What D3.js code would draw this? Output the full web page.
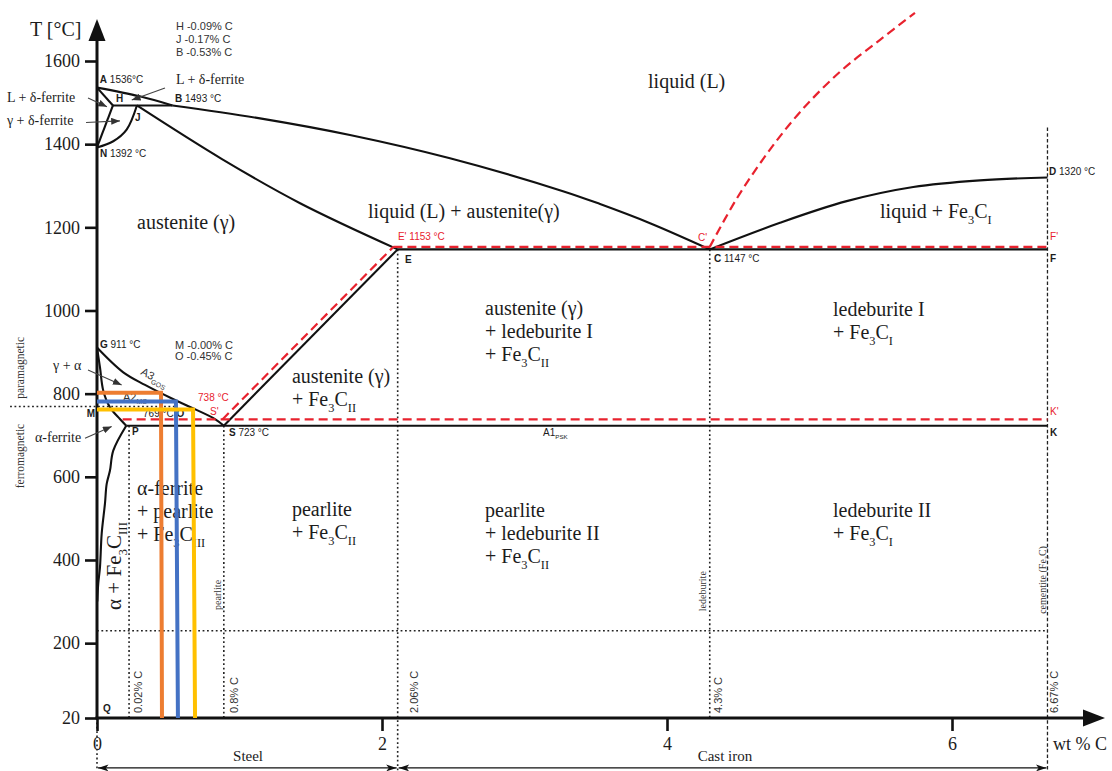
<!DOCTYPE html>
<html><head><meta charset="utf-8">
<script src="https://cdn.jsdelivr.net/npm/d3@7"></script>
<style>
body{margin:0;background:#fff}
svg{display:block;background:#fff}
.serif{font-family:"Liberation Serif","Times New Roman",serif;fill:#1c1c1c}
.sans{font-family:"Liberation Sans",Arial,sans-serif;fill:#1c1c1c}
</style></head><body>
<svg id="chart" width="1112" height="771"></svg>
<script>
// ---------------- DATA (wt % C, °C) ----------------
const xTicks=[0,2,4,6];
const yTicks=[20,200,400,600,800,1000,1200,1400,1600];

const liquidusAB=[[0,1536],[0.30,1515],[0.53,1493]];
const liquidusBC=[[0.53,1493],[1.144,1462],[1.775,1422],[2.477,1366],[3.27,1287],[3.53,1256],[3.881,1210],[4.3,1147]];
const liquidusCD=[[4.3,1147],[4.793,1211],[5.261,1263],[5.728,1297],[6.196,1313],[6.67,1320]];
const peritecticHB=[[0.112,1493],[0.53,1493]];
const solidusAH=[[0,1536],[0.112,1493]];
const deltaHN=[[0.112,1493],[0,1392]];
const gammaJN=[[0.28,1493],[0.208,1435],[0.114,1407],[0,1392]];
const solidusJE=[[0.28,1493],[0.877,1364],[1.425,1258],[2.11,1147]];
const eutecticEF=[[2.11,1147],[6.67,1147]];
const acmES=[[2.11,1147],[0.89,723]];
const a3GS=[[0,911],[0.182,852],[0.337,821],[0.533,787],[0.653,768],[0.828,739],[0.89,723]];
const alphaGP=[[0,911],[0.021,863],[0.044,807],[0.091,767],[0.161,739],[0.205,723]];
const solvusPQ=[[0.205,723],[0.114,663],[0.091,615],[0.068,583],[0.056,536],[0.033,464],[0.021,383],[0.009,344],[0.002,300]];
const eutectoidPK=[[0.205,723],[6.67,723]];

// stable (graphite) system, red dashed
const stableSE=[[0.88,738],[2.08,1153]];
const stableEF=[[2.08,1153],[6.67,1153]];
const stablePK=[[0.18,738],[6.67,738]];
const stableC=[[4.3,1153],[4.484,1266],[4.695,1374],[4.933,1477],[5.214,1574],[5.495,1651],[5.74,1716]];

// dotted guide lines
const guideX=[0.225,0.89,2.11,4.3,0];
const guideTop=[723,723,1147,1147,20];
const guideBottom=[20,20,-107,20,-107];
const cementiteX=6.67, cementiteTop=1440, cementiteBottom=-107;
const curieLine=[[0,230],[6.67,230]];
const magneticLine=[[-0.61,769],[0.55,769]];

// alloy composition lines (orange, blue, yellow)
const alloyT=[802,781,762];
const alloyTopX=[0.449,0.554,0.674];
const alloyBotX=[0.456,0.568,0.688];

// ranges under axis: [from, to, label, label x]
const ranges=[[0,2.11,"Steel",1.06],[2.11,6.67,"Cast iron",4.407]];
const rangeT=-100, rangeLabelT=-83;

// point labels: [text, x, T]
const pointLabels=[
 ["*A* 1536°C",0.02,1546],["*H*",0.133,1501],["*B* 1493 °C",0.547,1501],["*J*",0.267,1456],
 ["*N* 1392 °C",0.021,1369],
 ["*G* 911 °C",0.021,910],["*M*",-0.072,744],
 ["769 °C *O*",0.323,744],["*P*",0.246,701],["*S* 723 °C",0.926,698],["*E*",2.161,1114],
 ["*C* 1147 °C",4.33,1117],["*F*",6.688,1117],["*D* 1320 °C",6.681,1326],["*K*",6.688,698],
 ["*Q*",0.042,34],["A1_{PSK}",3.13,698]
];
const compNotes=[
 ["H -0.09%  C",0.554,1675],["J -0.17%  C",0.554,1643],["B -0.53%  C",0.554,1612],
 ["M -0.00%  C",0.547,907],["O -0.45%  C",0.547,882]
];
const redLabels=[
 ["738 °C",0.709,782],["S'",0.793,749],["E' 1153 °C",2.112,1170],["C'",4.218,1167],["F'",6.688,1170],["K'",6.688,749]
];
// phase region labels: [lines, x, T of first baseline]
const regionLabels=[
 [["liquid (L)"],3.867,1535],
 [["austenite (γ)"],0.281,1196],
 [["liquid (L) + austenite(γ)"],1.902,1222],
 [["liquid + Fe_{3}C_{I}"],5.495,1222],
 [["austenite (γ)","+ ledeburite I","+ Fe_{3}C_{II}"],2.723,989],
 [["ledeburite I","+ Fe_{3}C_{I}"],5.165,987],
 [["austenite (γ)","+ Fe_{3}C_{II}"],1.368,826],
 [["α-ferrite","+ pearlite","+ Fe_{3}C_{III}"],0.281,556],
 [["pearlite","+ Fe_{3}C_{II}"],1.368,506],
 [["pearlite","+ ledeburite II","+ Fe_{3}C_{II}"],2.723,503],
 [["ledeburite II","+ Fe_{3}C_{I}"],5.165,503]
];
// annotations with arrows: [text, textX, textT, fromX, fromT, toX, toT]
const arrowNotes=[
 ["L + δ-ferrite",-0.632,1502,-0.063,1511,0.070,1490],
 ["γ + δ-ferrite",-0.632,1446,-0.077,1452,0.161,1456],
 ["L + δ-ferrite",0.554,1545,0.477,1535,0.244,1506],
 ["γ + α",-0.309,857,-0.063,857,0.173,821],
 ["α-ferrite",-0.435,684,-0.084,693,0.103,721]
];
// vertical labels
const vertSerif=[["pearlite",0.87,316],["ledeburite",4.274,325],["cementite (Fe_{3}C)",6.66,352]];
const vertPct=[["0.02% C",0.316,32],["0.8% C",0.989,32],["2.06% C",2.253,32],["4.3% C",4.386,32],["6.67% C",6.744,32]];
const magLabels=[["paramagnetic",-0.512,862],["ferromagnetic",-0.512,650]];

// ---------------- STYLE ----------------
const alloyColors=["#ED7D31","#4472C4","#FFC000"];
const RED="#e8222e", INK="#111";

const svg=d3.select("#chart");
const x=d3.scaleLinear().domain([0,6]).range([97,952]);
const y=d3.scaleLinear().domain([20,1600]).range([718,61]);
const lineStraight=d3.line().x(d=>x(d[0])).y(d=>y(d[1]));
const lineCurve=d3.line().x(d=>x(d[0])).y(d=>y(d[1])).curve(d3.curveCatmullRom.alpha(0.5));

function rich(sel,str,fs){
  const re=/(\*[^*]+\*|_\{[^}]*\})/g;
  const parts=[];let last=0,m;
  while((m=re.exec(str))){
    if(m.index>last)parts.push({t:str.slice(last,m.index)});
    if(m[0][0]==="*")parts.push({t:m[0].slice(1,-1),b:true});
    else parts.push({t:m[0].slice(2,-1),s:true});
    last=re.lastIndex;
  }
  if(last<str.length)parts.push({t:str.slice(last)});
  let cur=0;
  parts.forEach(p=>{
    const target=p.s?fs*0.3:0;
    const ts=sel.append("tspan").attr("dy",target-cur).text(p.t);
    if(p.s)ts.style("font-size",(fs*0.62)+"px");
    if(p.b)ts.style("font-weight","bold");
    cur=target;
  });
}

// defs
const defs=svg.append("defs");
defs.append("marker").attr("id","ah").attr("viewBox","0 0 10 8").attr("refX",10).attr("refY",4)
 .attr("markerWidth",9).attr("markerHeight",7).attr("markerUnits","userSpaceOnUse").attr("orient","auto")
 .append("path").attr("d","M0,0L10,4L0,8z").attr("fill","#333");
defs.append("marker").attr("id","rh").attr("viewBox","0 0 12 8").attr("refX",12).attr("refY",4)
 .attr("markerWidth",12).attr("markerHeight",7).attr("markerUnits","userSpaceOnUse").attr("orient","auto-start-reverse")
 .append("path").attr("d","M0,0L12,4L0,8L3,4z").attr("fill","#111");

// guides
const g0=svg.append("g");
guideX.forEach((gx,i)=>{
  g0.append("line").attr("x1",x(gx)).attr("x2",x(gx)).attr("y1",y(guideTop[i])).attr("y2",y(guideBottom[i]))
   .attr("stroke","#222").attr("stroke-width",1.6).attr("stroke-dasharray","1.8,2.6");
});
g0.append("line").attr("x1",x(cementiteX)).attr("x2",x(cementiteX)).attr("y1",y(cementiteTop)).attr("y2",y(cementiteBottom))
  .attr("stroke","#222").attr("stroke-width",1.3).attr("stroke-dasharray","3.5,2.2");
[curieLine,magneticLine].forEach(l=>{
  g0.append("path").attr("d",lineStraight(l)).attr("fill","none").attr("stroke","#222").attr("stroke-width",1.6).attr("stroke-dasharray","1.8,2.6");
});

// axes
const yAxis=svg.append("g").attr("transform",`translate(${x(0)},0)`)
 .call(d3.axisLeft(y).tickValues(yTicks).tickSize(12).tickPadding(5).tickFormat(d3.format("d")));
const xAxis=svg.append("g").attr("transform",`translate(0,${y(20)})`)
 .call(d3.axisBottom(x).tickValues(xTicks).tickSize(13).tickPadding(6).tickFormat(d3.format("d")));
[yAxis,xAxis].forEach(a=>{
  a.select(".domain").remove();
  a.selectAll(".tick line").attr("stroke","#111").attr("stroke-width",2.6);
  a.selectAll(".tick text").attr("class","serif").style("font-size","18px").attr("fill","#1c1c1c");
});
const ax=svg.append("g");
const x0=x(0),yb=y(20),yTip=19,xTip=1105;
ax.append("line").attr("x1",x0).attr("x2",x0).attr("y1",yb+1).attr("y2",yTip+20).attr("stroke",INK).attr("stroke-width",3);
ax.append("path").attr("d",`M${x0-8.5},${yTip+22}L${x0},${yTip}L${x0+8.5},${yTip+22}Z`).attr("fill",INK);
ax.append("line").attr("x1",x0-1.5).attr("x2",xTip-20).attr("y1",yb).attr("y2",yb).attr("stroke",INK).attr("stroke-width",3);
ax.append("path").attr("d",`M${xTip-22},${yb-8.5}L${xTip},${yb}L${xTip-22},${yb+8.5}Z`).attr("fill",INK);

// phase lines
const gp=svg.append("g").attr("fill","none").attr("stroke",INK).attr("stroke-width",2.1).attr("stroke-linejoin","round");
[liquidusAB,liquidusBC,liquidusCD,gammaJN,solidusJE,a3GS,alphaGP,solvusPQ].forEach(l=>gp.append("path").attr("d",lineCurve(l)));
[peritecticHB,solidusAH,deltaHN,eutecticEF,acmES,eutectoidPK].forEach(l=>gp.append("path").attr("d",lineStraight(l)));

const gr=svg.append("g").attr("fill","none").attr("stroke",RED).attr("stroke-width",2.2).attr("stroke-dasharray","9,5");
[stableSE,stableEF,stablePK].forEach(l=>gr.append("path").attr("d",lineStraight(l)));
gr.append("path").attr("d",lineCurve(stableC));

// text labels
const gt=svg.append("g");
pointLabels.forEach(([t,lx,lt])=>{
  const el=gt.append("text").attr("class","sans").attr("x",x(lx)).attr("y",y(lt)).style("font-size","10px");
  rich(el,t,10);
});
compNotes.forEach(([t,lx,lt])=>{
  gt.append("text").attr("class","sans").attr("x",x(lx)).attr("y",y(lt)).style("font-size","11px").style("fill","#333").text(t);
});
redLabels.forEach(([t,lx,lt])=>{
  const el=gt.append("text").attr("class","sans").attr("x",x(lx)).attr("y",y(lt)).style("font-size","10px").style("fill",RED);
  rich(el,t,10);
});
regionLabels.forEach(([lines,lx,lt])=>{
  lines.forEach((ln,i)=>{
    const el=gt.append("text").attr("class","serif").attr("x",x(lx)).attr("y",y(lt)+i*23).style("font-size","20px");
    rich(el,ln,20);
  });
});
arrowNotes.forEach(([t,tx,tt,fx,ft,ex,et])=>{
  gt.append("text").attr("class","serif").attr("x",x(tx)).attr("y",y(tt)).style("font-size","14px").text(t);
  gt.append("line").attr("x1",x(fx)).attr("y1",y(ft)).attr("x2",x(ex)).attr("y2",y(et))
    .attr("stroke","#444").attr("stroke-width",1.1).attr("marker-end","url(#ah)");
});
vertSerif.forEach(([t,lx,lt])=>{
  const el=gt.append("text").attr("class","serif").attr("text-anchor","middle")
    .attr("transform",`translate(${x(lx)},${y(lt)}) rotate(-90)`).style("font-size","10px").style("fill","#333");
  rich(el,t,10);
});
vertPct.forEach(([t,lx,lt])=>{
  gt.append("text").attr("class","sans").attr("transform",`translate(${x(lx)},${y(lt)}) rotate(-90)`)
    .style("font-size","11px").style("fill","#333").text(t);
});
magLabels.forEach(([t,lx,lt])=>{
  gt.append("text").attr("class","serif").attr("text-anchor","middle")
    .attr("transform",`translate(${x(lx)},${y(lt)}) rotate(-90)`).style("font-size","11.5px").style("fill","#333").text(t);
});
// alpha + Fe3CIII vertical
{
  const el=gt.append("text").attr("class","serif").attr("transform",`translate(${x(0.168)},${y(280)}) rotate(-90)`).style("font-size","21px");
  rich(el,"α + Fe_{3}C_{III}",21);
}
// A3 / A2
{
  const el=gt.append("text").attr("class","sans").attr("transform",`translate(${x(0.302)},${y(847)}) rotate(28)`).style("font-size","11px").style("fill","#333");
  rich(el,"A3_{GOS}",11);
  const el2=gt.append("text").attr("class","sans").attr("x",x(0.182)).attr("y",y(782)).style("font-size","11px").style("fill","#333");
  rich(el2,"A2_{MO}",11);
}
// axis titles
gt.append("text").attr("class","serif").attr("x",x(-0.47)).attr("y",y(1659)).style("font-size","20px").text("T [°C]");
gt.append("text").attr("class","serif").attr("x",x(6.709)).attr("y",y(-57)).style("font-size","18px").text("wt % C");

// ranges
ranges.forEach(([a,b,t,lx])=>{
  gt.append("line").attr("x1",x(a)+1).attr("x2",x(b)-1).attr("y1",y(rangeT)).attr("y2",y(rangeT))
    .attr("stroke","#111").attr("stroke-width",1.3).attr("marker-start","url(#rh)").attr("marker-end","url(#rh)");
  gt.append("text").attr("class","serif").attr("text-anchor","middle").attr("x",x(lx))
    .attr("y",y(rangeLabelT)).style("font-size","15px").text(t);
});

// alloy composition lines on top
alloyT.forEach((t,i)=>{
  const pts=[[0,t],[alloyTopX[i],t],[alloyBotX[i],20]];
  svg.append("path").attr("d",lineStraight(pts)).attr("fill","none").attr("stroke",alloyColors[i])
    .attr("stroke-width",4).attr("stroke-linejoin","miter");
});
</script>
</body></html>
